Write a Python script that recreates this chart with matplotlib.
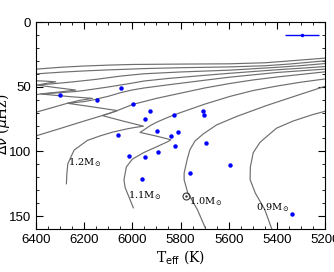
import matplotlib
matplotlib.use("Agg")
import matplotlib.pyplot as plt
from matplotlib.ticker import MultipleLocator

# observed stars: Teff (K), large separation (muHz)
star_teff = [6299, 6148, 6047, 5997, 5927, 5947, 5827, 5707, 5701, 6060, 5898,
             5812, 5838, 5821, 5892, 5695, 5594, 5761, 6013, 5947, 5959, 5336]
star_dnu = [56.2, 60.5, 51.0, 63.0, 69.0, 74.6, 72.0, 68.5, 71.8, 87.7, 84.0,
            85.0, 88.0, 95.6, 100.2, 93.6, 110.2, 116.4, 103.6, 104.0, 121.0, 148.5]

# typical error bar
err_teff = 5295
err_dnu = 10
err_size = 70

# the Sun
sun_teff = 5777
sun_dnu = 134.4

# evolutionary tracks (Teff, dnu): main sequence, hook, subgiant branch
tracks = {
    "1.7": ([6400, 6300, 6200, 6100, 6000, 5800, 5600, 5450, 5350, 5200],
            [36.4, 35.0, 34.0, 33.3, 32.8, 32.5, 32.3, 31.5, 30.1, 27.9]),
    "1.6": ([6400, 6360, 6318, 6360, 6410, 6440, 6410, 6300, 6200, 6100, 5952, 5800, 5600, 5450, 5350, 5200],
            [48.9, 47.5, 46.2, 45.7, 45.3, 42.0, 40.2, 38.8, 37.8, 37.0, 36.0, 35.3, 34.7, 33.8, 32.5, 30.0]),
    "1.5": ([6400, 6380, 6300, 6235, 6320, 6396, 6350, 6318, 6250, 6150, 6050, 5952, 5800, 5595, 5400, 5300, 5200],
            [56.1, 55.6, 54.0, 52.6, 50.6, 48.7, 48.0, 47.5, 46.3, 44.3, 41.8, 40.0, 38.6, 37.2, 35.0, 33.7, 32.1]),
    "1.4": ([6400, 6330, 6270, 6220, 6166, 6250, 6330, 6380, 6300, 6235, 6200, 6100, 6000, 5952, 5850, 5700, 5595, 5400, 5300, 5200],
            [69.7, 66.0, 62.8, 60.6, 59.0, 57.8, 56.5, 55.6, 54.6, 53.7, 52.9, 50.2, 47.2, 45.6, 43.6, 41.2, 39.6, 36.9, 35.7, 34.4]),
    "1.3": ([6400, 6300, 6200, 6125, 6062, 6150, 6270, 6200, 6166, 6100, 6047, 6000, 5952, 5850, 5700, 5595, 5400, 5300, 5200],
            [88.0, 82.3, 76.5, 72.3, 68.5, 66.0, 62.8, 61.5, 60.3, 57.4, 54.5, 52.5, 51.0, 48.5, 45.0, 42.6, 39.0, 37.7, 36.4]),
    "1.2": ([6274, 6272, 6268, 6242, 6187, 6134, 6080, 6020, 5990, 5954, 6040, 6125, 6090, 6050, 5997, 5952, 5900, 5800, 5700, 5595, 5500, 5400, 5300, 5200],
            [125.0, 117.0, 109.5, 99.0, 91.5, 88.0, 85.0, 82.5, 81.5, 80.5, 76.5, 72.3, 70.3, 67.5, 63.6, 61.5, 59.0, 55.0, 51.0, 47.5, 44.8, 42.5, 40.5, 38.5]),
    "1.1": ([5996, 6030, 6035, 6025, 6000, 5954, 5900, 5851, 5840, 5900, 5968, 5945, 5927, 5900, 5850, 5800, 5700, 5595, 5500, 5400, 5300, 5200],
            [143.6, 128.0, 122.0, 112.0, 106.0, 101.0, 96.5, 92.3, 91.0, 88.2, 85.3, 82.5, 80.2, 77.5, 73.5, 70.0, 63.5, 57.5, 53.0, 49.5, 46.5, 44.0]),
    "1.0": ([5695, 5730, 5770, 5785, 5785, 5772, 5761, 5740, 5705, 5650, 5567, 5442, 5304, 5200],
            [160.0, 145.0, 132.0, 122.0, 116.7, 106.0, 98.7, 92.0, 86.4, 79.5, 73.0, 64.5, 56.0, 49.7]),
    "0.9": ([5421, 5450, 5490, 5511, 5510, 5498, 5470, 5442, 5401, 5332, 5250, 5200],
            [160.0, 145.0, 132.0, 121.8, 112.0, 101.0, 93.0, 88.5, 82.0, 76.5, 71.5, 69.0]),
}

# mass labels
label_mass = ["1.2", "1.1", "1.0", "0.9"]
label_teff = [6199, 5947, 5696, 5418]
label_dnu = [109, 134, 139, 143.6]

fig = plt.figure(figsize=(3.34, 2.72), dpi=100)
ax = fig.add_axes([0.108, 0.158, 0.865, 0.761])

for m in tracks:
    t, d = tracks[m]
    ax.plot(t, d, color="#6e6e6e", lw=0.85, solid_joinstyle="round")

ax.plot(star_teff, star_dnu, "o", color="#0000ff", ms=3.2, mew=0)
ax.errorbar(err_teff, err_dnu, xerr=err_size, fmt="o", color="#0000ff",
            ms=2.5, mew=0, elinewidth=1, capsize=2.5, capthick=1)

ax.plot(sun_teff, sun_dnu, "o", mfc="none", mec="#333333", ms=5, mew=0.8)
ax.plot(sun_teff, sun_dnu, ".", color="#333333", ms=1.5)

for m, t, d in zip(label_mass, label_teff, label_dnu):
    ax.text(t, d, m + r"M$_\odot$", fontsize=7, family="DejaVu Serif",
            ha="center", va="center")

ax.set_xlim(6400, 5200)
ax.set_ylim(160, 0)
ax.xaxis.set_major_locator(MultipleLocator(200))
ax.xaxis.set_minor_locator(MultipleLocator(50))
ax.yaxis.set_major_locator(MultipleLocator(50))
ax.yaxis.set_minor_locator(MultipleLocator(10))
ax.tick_params(which="both", direction="in", top=True, right=True, labelsize=9.5)
ax.tick_params(which="major", length=5)
ax.tick_params(which="minor", length=2.5)
for lab in ax.get_xticklabels() + ax.get_yticklabels():
    lab.set_family("Liberation Sans")

ax.set_xlabel(r"T$_{\rm eff}$ (K)", fontsize=10, family="DejaVu Serif", labelpad=2)
fig.text(0.006, 0.545, r"$\Delta\nu$ ($\mu$Hz)", rotation=90, fontsize=10,
         family="DejaVu Serif", ha="center", va="center")

fig.savefig("out.png", dpi=100)
